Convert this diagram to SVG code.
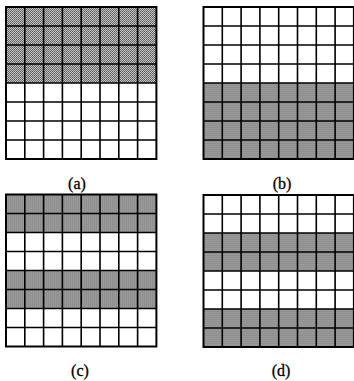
<svg xmlns="http://www.w3.org/2000/svg" xmlns:xlink="http://www.w3.org/1999/xlink" width="354" height="381" viewBox="0 0 354 381">
<style>
.lbl{font-family:"Liberation Serif","Times New Roman",serif;font-size:16px;fill:#000;text-anchor:middle;stroke:#000;stroke-width:0.3}
.shade{fill:url(#dots)}
.grid{fill:none;stroke:#000;stroke-width:1.6}
.frame{fill:none;stroke:#000;stroke-width:2}
</style>
<defs>
<pattern id="dots" width="2" height="2" patternUnits="userSpaceOnUse">
<rect width="2" height="2" fill="#c4c4c4"/>
<rect width="1" height="1" fill="#5a5a5a"/>
<rect x="1" y="1" width="1" height="1" fill="#6e6e6e"/>
</pattern>
<path id="lines" class="grid" d="M18.8 0V152M37.6 0V152M56.4 0V152M75.2 0V152M94 0V152M112.8 0V152M131.6 0V152M0 19H150.4M0 38H150.4M0 57H150.4M0 76H150.4M0 95H150.4M0 114H150.4M0 133H150.4"/>
<rect id="box" class="frame" x="0" y="0" width="150.4" height="152"/>
</defs>
<g id="panel-a" transform="translate(6,7)">
<rect class="shade" x="0" y="0" width="150.4" height="76"/>
<use xlink:href="#lines"/>
<use xlink:href="#box"/>
</g>
<g id="panel-b" transform="translate(203.5,7)">
<rect class="shade" x="0" y="76" width="150.4" height="76"/>
<use xlink:href="#lines"/>
<use xlink:href="#box"/>
</g>
<g id="panel-c" transform="translate(6,194.5)">
<rect class="shade" x="0" y="0" width="150.4" height="38"/>
<rect class="shade" x="0" y="76" width="150.4" height="38"/>
<use xlink:href="#lines"/>
<use xlink:href="#box"/>
</g>
<g id="panel-d" transform="translate(203.5,195)">
<rect class="shade" x="0" y="38" width="150.4" height="38"/>
<rect class="shade" x="0" y="114" width="150.4" height="38"/>
<use xlink:href="#lines"/>
<use xlink:href="#box"/>
</g>
<g id="labels">
<text class="lbl" x="77" y="189">(a)</text>
<text class="lbl" x="282" y="189">(b)</text>
<text class="lbl" x="80" y="376">(c)</text>
<text class="lbl" x="281" y="376">(d)</text>
</g>
<g id="connectors"/>
</svg>
